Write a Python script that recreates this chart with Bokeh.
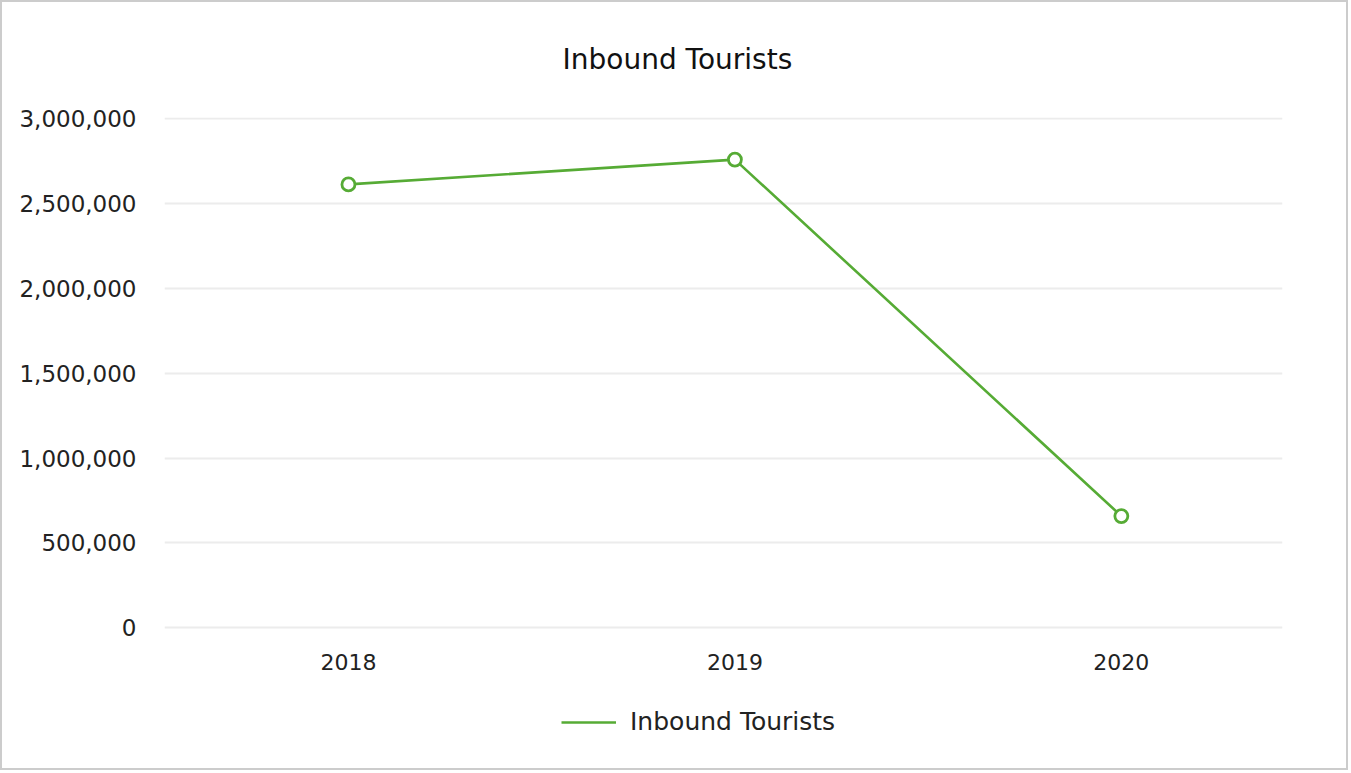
from bokeh.plotting import figure
from bokeh.embed import file_html
from bokeh.resources import INLINE
from bokeh.models import (Range1d, FixedTicker, NumeralTickFormatter, Legend,
                          LegendItem, ColumnDataSource)

# ---- data ----
years = ["2018", "2019", "2020"]
inbound_tourists = [2612000, 2758000, 658000]
y_ticks = [0, 500000, 1000000, 1500000, 2000000, 2500000, 3000000]
series_name = "Inbound Tourists"
chart_title = "Inbound Tourists"

FONT = "DejaVu Sans"
GREEN = "#56ab35"

x_idx = list(range(len(years)))
src = ColumnDataSource(dict(x=x_idx, y=inbound_tourists))

p = figure(width=1348, height=770, output_backend="svg", toolbar_location=None,
           x_range=Range1d(-0.476, 2.417), y_range=Range1d(-782000, 3006000),
           min_border_left=162, min_border_right=68, min_border_top=114,
           min_border_bottom=12)
p.styles = {"border": "2px solid #cccccc", "box-sizing": "border-box"}

p.title.text = chart_title
p.title.align = "left"
p.title.offset = 398
p.title.vertical_align = "top"
p.title.standoff = 80
p.title.text_line_height = 0.8
p.title.text_font = FONT
p.title.text_font_size = "28px"
p.title.text_font_style = "normal"
p.title.text_color = "#111111"

p.outline_line_color = None
p.background_fill_color = "white"
p.border_fill_color = "white"

# axes
p.xaxis.fixed_location = 0
p.xaxis.ticker = FixedTicker(ticks=x_idx)
p.xaxis.major_label_overrides = {i: y for i, y in zip(x_idx, years)}
p.yaxis.ticker = FixedTicker(ticks=y_ticks)
p.yaxis.formatter = NumeralTickFormatter(format="0,0")
for ax in (p.xaxis, p.yaxis):
    ax.axis_line_color = None
    ax.major_tick_line_color = None
    ax.minor_tick_line_color = None
    ax.major_label_text_font = FONT
    ax.major_label_text_color = "#222222"
p.xaxis.major_label_text_font_size = "22px"
p.yaxis.major_label_text_font_size = "23px"
p.xaxis.major_label_standoff = 20
p.yaxis.major_label_standoff = 22

p.xgrid.grid_line_color = None
p.ygrid.grid_line_color = "#ececec"
p.ygrid.grid_line_width = 2

line = p.line("x", "y", source=src, line_color=GREEN, line_width=2.6)
p.scatter("x", "y", source=src, size=13, marker="circle", fill_color="white",
          line_color=GREEN, line_width=2.8)

legend = Legend(items=[LegendItem(label=series_name, renderers=[line])],
                location=(397, 24), orientation="horizontal",
                label_text_font=FONT, label_text_font_size="25px",
                label_text_color="#222222", glyph_width=55, glyph_height=24,
                label_standoff=14, padding=0, margin=0,
                background_fill_alpha=0, border_line_color=None)
p.add_layout(legend)

open("out.html", "w").write(file_html(p, INLINE))
